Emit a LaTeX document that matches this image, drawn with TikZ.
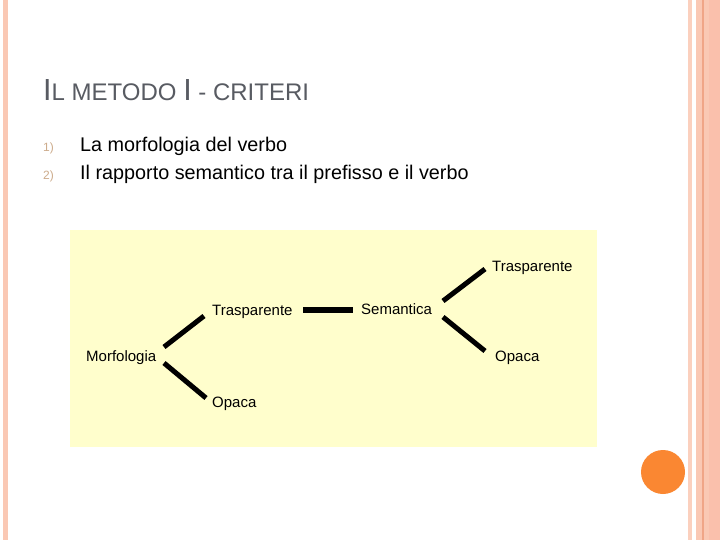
\documentclass[tikz,border=0pt]{standalone}
\usepackage{fontspec}
\setmainfont{Liberation Sans}
\definecolor{titlegray}{RGB}{88,91,98}
\definecolor{numtan}{RGB}{205,172,140}
\definecolor{boxyellow}{RGB}{255,254,204}
\definecolor{stripe}{RGB}{250,200,180}
\definecolor{stripelight}{RGB}{251,208,190}
\definecolor{stripedark}{RGB}{240,165,135}
\definecolor{stripemid}{RGB}{250,192,172}
\definecolor{dotorange}{RGB}{250,135,50}
\tikzset{
  lbl/.style={anchor=base west, inner sep=0pt, font=\fontsize{15}{15}\selectfont},
  conn/.style={line width=5pt},
  item/.style={anchor=base west, inner sep=0pt, font=\fontsize{19.8}{19.8}\selectfont},
  num/.style={anchor=base west, inner sep=0pt, text=numtan, font=\fontsize{12}{12}\selectfont}
}
\begin{document}
\begin{tikzpicture}[x=1pt,y=-1pt]
\useasboundingbox (0,0) rectangle (720,540);
\fill[white] (0,0) rectangle (720,540);
% decorative stripes
\fill[stripe] (3,0) rectangle (8,540);
\fill[stripelight] (688,0) rectangle (692,540);
\fill[stripe] (696,0) rectangle (720,540);
\fill[stripemid] (709,0) rectangle (720,540);
\fill[stripedark] (702,0) rectangle (703.5,540);
\fill[dotorange] (663,472) circle (22);
% title
\node[anchor=base west, inner sep=0pt, text=titlegray] (title) at (43,101)
  {\fontsize{30.5}{30}\selectfont I\fontsize{24}{24}\selectfont L METODO \fontsize{30.5}{30}\selectfont I\fontsize{24}{24}\selectfont{} - CRITERI};
% list
\node[num] (n1) at (43,152) {1)};
\node[item] (i1) at (80,151.5) {La morfologia del verbo};
\node[num] (n2) at (43,180) {2)};
\node[item] (i2) at (80,179.5) {Il rapporto semantico tra il prefisso e il verbo};
% diagram box
\fill[boxyellow] (70,230) rectangle (597,447);
\node[lbl] (morf) at (86,361) {Morfologia};
\node[lbl] (tl) at (212,315) {Trasparente};
\node[lbl] (ol) at (212,407) {Opaca};
\node[lbl] (sem) at (361,314) {Semantica};
\node[lbl] (tr) at (492,271) {Trasparente};
\node[lbl] (or) at (495,361) {Opaca};
\draw[conn] ([shift={(78,-14)}]morf.base west) -- ([shift={(-8,1)}]tl.base west);
\draw[conn] ([shift={(78,2)}]morf.base west) -- ([shift={(-6,-9)}]ol.base west);
\draw[line width=5.5pt] ([shift={(91,-5)}]tl.base west) -- ([shift={(-8,-4)}]sem.base west);
\draw[conn] ([shift={(82,-13)}]sem.base west) -- ([shift={(-7,-2)}]tr.base west);
\draw[conn] ([shift={(82,3)}]sem.base west) -- ([shift={(-10,-10)}]or.base west);
\end{tikzpicture}
\end{document}
